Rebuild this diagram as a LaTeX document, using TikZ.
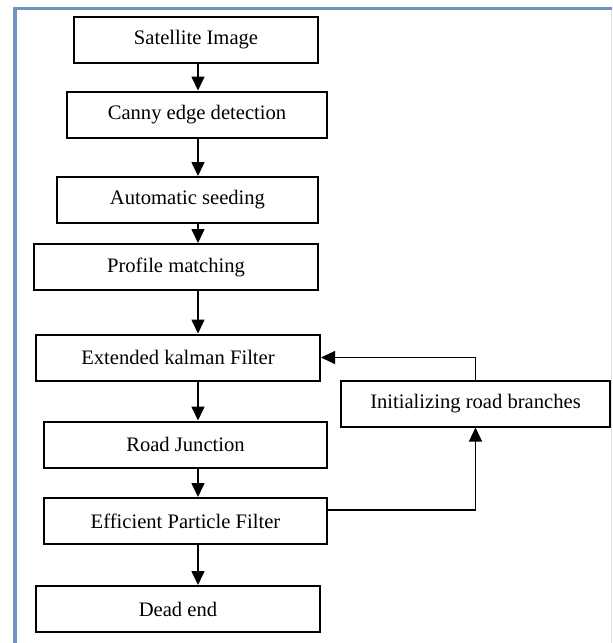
\documentclass[tikz,border=0pt]{standalone}
\usepackage{fontspec}
\setmainfont{Liberation Serif}
\usetikzlibrary{arrows.meta}

\definecolor{framebar}{RGB}{114,147,194}
\definecolor{frameedge}{RGB}{221,230,242}

\tikzset{
  stage/.style={draw, line width=1pt, minimum height=23pt, inner sep=0pt,
    font=\fontsize{10.3}{12}\selectfont},
  flow/.style={line width=0.8pt, -{Triangle[width=6.5pt,length=7pt]}},
  loopline/.style={line width=0.6pt, -{Triangle[width=6.5pt,length=7pt]}}
}

\begin{document}
\begin{tikzpicture}[x=0.5pt,y=-0.5pt]
\useasboundingbox (0,0) rectangle (613,643);

% page frame
\fill [framebar] (13,7) rectangle (17,643);
\fill [framebar] (13,7) rectangle (612,10);
\fill [frameedge] (611,10) rectangle (612,643);

% stages
\node [stage, minimum width=122pt] (sat) at (196,40) {Satellite Image};
\node [stage, minimum width=130pt] (canny) at (197,114.5) {Canny edge detection};
\node [stage, minimum width=130.5pt] (seed) at (187.5,200) {Automatic seeding};
\node [stage, minimum width=142pt] (prof) at (176,267) {Profile matching};
\node [stage, minimum width=142pt] (ekf) at (178,357.5) {Extended kalman Filter};
\node [stage, minimum width=141.5pt] (junc) at (185.5,444.5) {Road Junction};
\node [stage, minimum width=141.5pt] (epf) at (185.5,521) {Efficient Particle Filter};
\node [stage, minimum width=142pt] (dead) at (178,609) {Dead end};
\node [stage, minimum width=134.5pt] (init) at (475.5,403.5) {Initializing road branches};

% main chain
\coordinate (spine) at (198,0);
\foreach \a/\b in {sat/canny, canny/seed, seed/prof, prof/ekf, ekf/junc, junc/epf, epf/dead}
  \draw [flow] (\a.south -| spine) -- (\b.north -| spine);

% branch loop
\draw [loopline] ([yshift=5.5pt]epf.east) -| (init.south);
\draw [loopline] (init.north) |- (ekf.east);

\end{tikzpicture}
\end{document}
